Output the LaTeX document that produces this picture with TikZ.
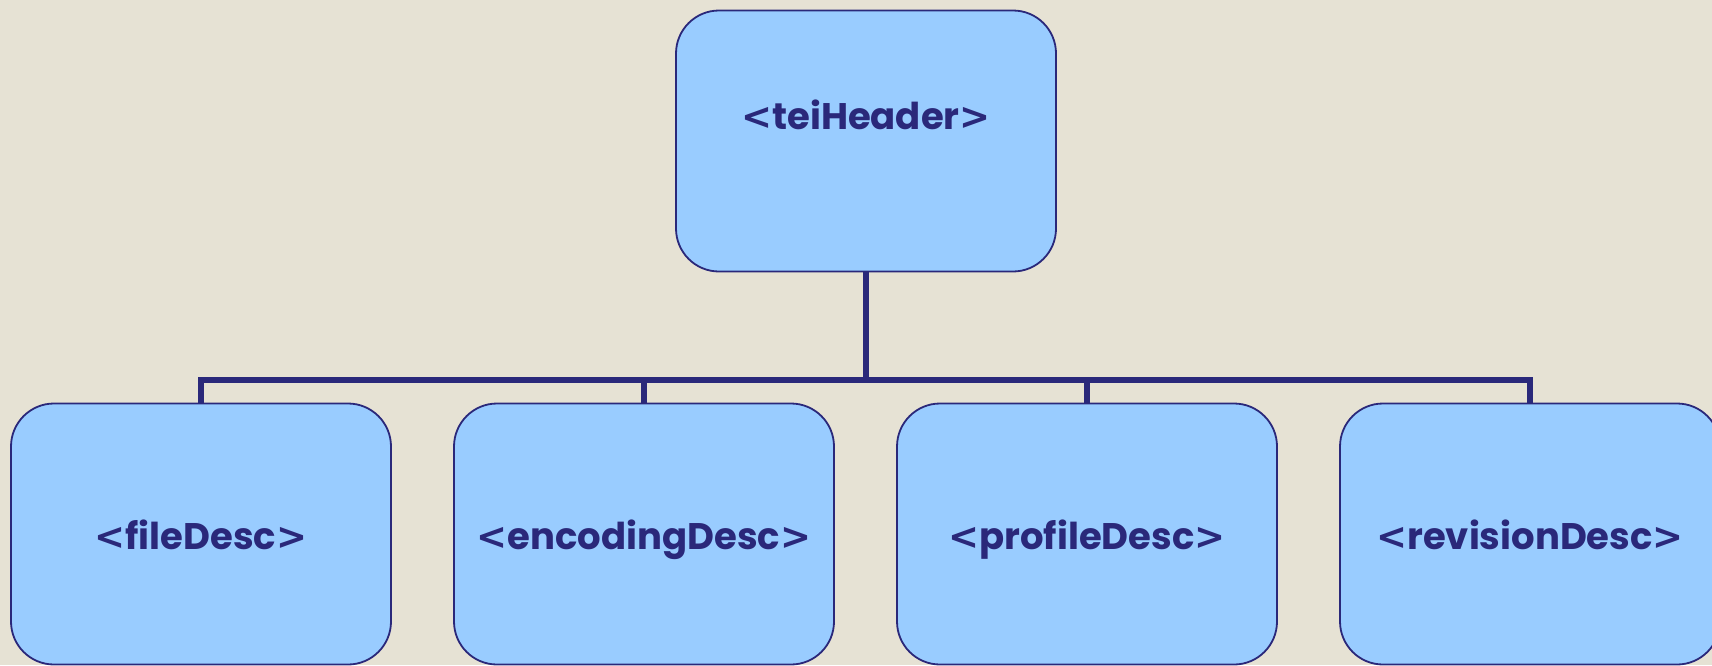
\documentclass[tikz,border=0pt]{standalone}
\usepackage{fontspec}
\setmainfont{Poppins}
\newfontfamily\chevfont{DejaVu Sans}
\newcommand{\lchev}{{\chevfont\bfseries <}}
\newcommand{\rchev}{{\chevfont\bfseries >}}
\usetikzlibrary{backgrounds}
\definecolor{navy}{RGB}{42,40,122}
\definecolor{boxfill}{RGB}{153,204,255}
\definecolor{paper}{RGB}{230,226,212}
\tikzset{
  box/.style={draw=navy, line width=1.8pt, fill=boxfill, rounded corners=43pt,
    minimum width=380pt, minimum height=261pt, inner sep=0pt, anchor=center},
  lbl/.style={text=navy, font=\fontsize{37}{44}\selectfont\bfseries, inner sep=0pt, anchor=base},
  conn/.style={draw=navy, line width=6.5pt, line join=miter}
}
\begin{document}
\begin{tikzpicture}[x=1pt,y=-1pt]
\useasboundingbox (0,0) rectangle (1712,665);
\node[box] (tei) at (866,141) {};
\node[lbl] (teit) at ([yshift=12pt]tei.center) {\lchev teiHeader\rchev};
\node[box] (b1) at (201,534) {};
\node[lbl] at ([yshift=-15pt]b1.center) {\lchev fileDesc\rchev};
\node[box] (b2) at (644,534) {};
\node[lbl] at ([yshift=-15pt]b2.center) {\lchev encodingDesc\rchev};
\node[box] (b3) at (1087,534) {};
\node[lbl] at ([yshift=-15pt]b3.center) {\lchev profileDesc\rchev};
\node[box] (b4) at (1530,534) {};
\node[lbl] at ([yshift=-15pt]b4.center) {\lchev revisionDesc\rchev};
\coordinate (j) at (866,380);
\begin{scope}[on background layer]
\fill[paper] (0,0) rectangle (1712,665);
\draw[conn] (tei.south) -- (j);
\draw[conn] (b1.north) |- (j) -| (b4.north);
\draw[conn] (b2.north) -- (b2.north |- j);
\draw[conn] (b3.north) -- (b3.north |- j);
\end{scope}
\end{tikzpicture}
\end{document}
